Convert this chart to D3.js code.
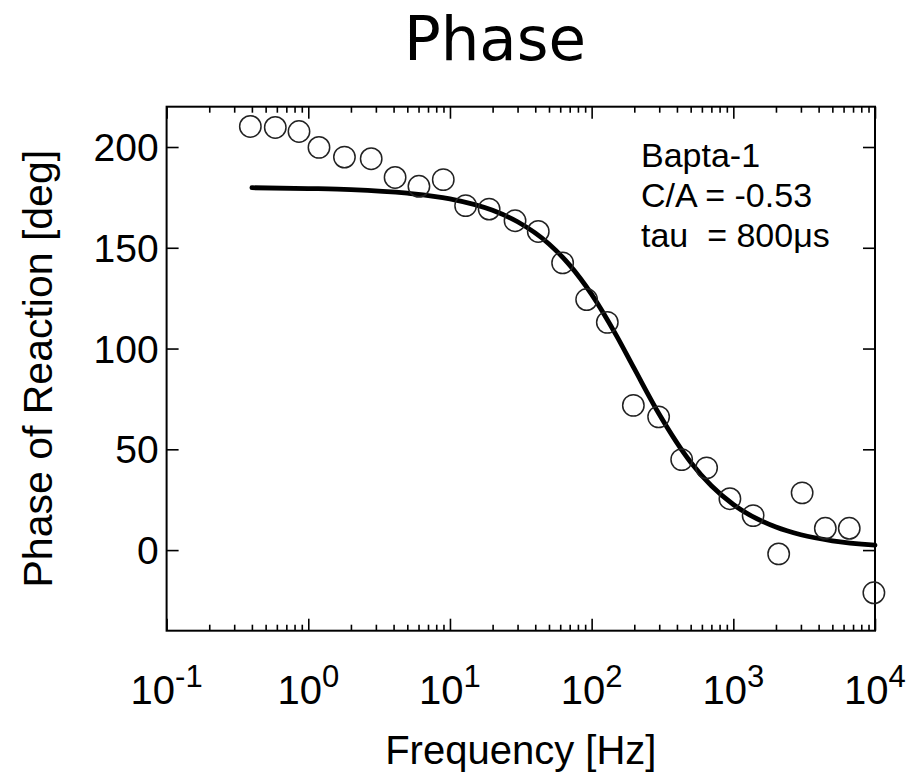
<!DOCTYPE html>
<html>
<head>
<meta charset="utf-8">
<script src="https://cdn.jsdelivr.net/npm/d3@7"></script>
<style>
  body { margin: 0; background: #fff; }
  text { font-family: "Liberation Sans", Arial, sans-serif; fill: #000; }
</style>
</head>
<body>
<svg width="909" height="775"></svg>
<script>
// measured points (frequency in Hz, phase in deg)
const freq = [0.39, 0.585, 0.86, 1.19, 1.8, 2.78, 4.1, 6.04, 8.97, 12.9, 18.9, 28.8, 42,
  62.4, 92.2, 129, 197, 297, 432, 648, 946, 1380, 2090, 3060, 4460, 6580, 9820];
const phase = [210.2, 209.7, 207.7, 199.8, 195, 194.2, 184.9, 180.5, 183.8, 170.9, 169.2, 163.4, 158.1,
  142.5, 124.3, 113, 71.8, 66.1, 44.9, 40.8, 25.5, 17.1, -1.9, 28.4, 10.8, 10.8, -21.2];

// fitted curve
const fitFreq = [0.4, 1, 2, 5, 10, 20, 30, 50, 70, 100, 150, 200, 300, 500, 700, 1000, 2000, 3000, 5000, 10000];
const fitPhase = [179.8, 179.4, 178.9, 177.1, 174.3, 168.6, 162.9, 151.9, 141.4, 126.9, 106.3, 90, 67.4,
  43.6, 31.9, 22.6, 11.4, 7.6, 4.6, 2.5];

const yTicks = [0, 50, 100, 150, 200];
const xExp = [-1, 0, 1, 2, 3, 4];
const notes = ["Bapta-1", "C/A = -0.53", "tau  = 800\u03bcs"];

const svg = d3.select('svg');
const marg = { top: 106.7, left: 166.6, right: 34, bottom: 144.3 };
const w = 909 - marg.left - marg.right;
const h = 775 - marg.top - marg.bottom;

const x = d3.scaleLog().domain([0.1, 10000]).range([0, w]);
const y = d3.scaleLinear().domain([-40, 220]).range([h, 0]);

const g = svg.append('g').attr('transform', `translate(${marg.left},${marg.top})`);

// tick positions
const major = xExp.map(e => Math.pow(10, e));
const minor = [];
xExp.slice(0, -1).forEach(e => {
  for (let k = 2; k <= 9; k++) minor.push(k * Math.pow(10, e));
});

const tickStyle = sel => {
  sel.select('.domain').remove();
  sel.selectAll('.tick text').remove();
  sel.selectAll('.tick line').attr('stroke', '#000').attr('stroke-width', 1.6);
};

// bottom + top axes (ticks inward)
g.append('g').attr('transform', `translate(0,${h})`)
  .call(d3.axisBottom(x).tickValues(major).tickSize(-12)).call(tickStyle);
g.append('g').attr('transform', `translate(0,${h})`)
  .call(d3.axisBottom(x).tickValues(minor).tickSize(-6)).call(tickStyle);
g.append('g')
  .call(d3.axisTop(x).tickValues(major).tickSize(-12)).call(tickStyle);
g.append('g')
  .call(d3.axisTop(x).tickValues(minor).tickSize(-6)).call(tickStyle);

// left + right axes
g.append('g')
  .call(d3.axisLeft(y).tickValues(yTicks).tickSize(-12)).call(tickStyle);
g.append('g').attr('transform', `translate(${w},0)`)
  .call(d3.axisRight(y).tickValues(yTicks).tickSize(-12)).call(tickStyle);

// frame
g.append('rect')
  .attr('width', w).attr('height', h)
  .attr('fill', 'none').attr('stroke', '#000').attr('stroke-width', 2);

// y tick labels
g.selectAll('.ylab').data(yTicks).enter().append('text')
  .attr('class', 'ylab')
  .attr('x', -8)
  .attr('y', d => y(d) + 14)
  .attr('text-anchor', 'end')
  .style('font-size', '39px')
  .text(d => d);

// x tick labels 10^n
const xl = g.selectAll('.xlab').data(xExp).enter().append('text')
  .attr('class', 'xlab')
  .attr('x', d => x(Math.pow(10, d)))
  .attr('y', h + 73)
  .attr('text-anchor', 'middle')
  .style('font-size', '40px');
xl.append('tspan').text('10');
xl.append('tspan').attr('dy', -17).style('font-size', '31px').text(d => d);

// fit line
const line = d3.line()
  .x((d, i) => x(fitFreq[i]))
  .y(d => y(d))
  .curve(d3.curveMonotoneX);

g.append('path')
  .datum(fitPhase)
  .attr('d', line)
  .attr('fill', 'none')
  .attr('stroke', '#000')
  .attr('stroke-width', 4.8)
  .attr('stroke-linecap', 'round');

// data circles
g.selectAll('circle').data(phase).enter().append('circle')
  .attr('cx', (d, i) => x(freq[i]))
  .attr('cy', d => y(d))
  .attr('r', 10.7)
  .attr('fill', 'none')
  .attr('stroke', '#222')
  .attr('stroke-width', 1.5);

// annotation
g.selectAll('.note').data(notes).enter().append('text')
  .attr('class', 'note')
  .attr('x', 641 - marg.left)
  .attr('y', (d, i) => 166.7 - marg.top + i * 40)
  .style('font-size', '34px')
  .style('white-space', 'pre')
  .text(d => d);

// axis titles
svg.append('text')
  .attr('x', marg.left + w / 2)
  .attr('y', 764)
  .attr('text-anchor', 'middle')
  .style('font-size', '40px')
  .text('Frequency [Hz]');

svg.append('text')
  .attr('transform', `translate(52,${marg.top + h / 2}) rotate(-90)`)
  .attr('text-anchor', 'middle')
  .style('font-size', '41px')
  .text('Phase of Reaction [deg]');

svg.append('text')
  .attr('x', 495)
  .attr('y', 60)
  .attr('text-anchor', 'middle')
  .style('font-family', '"DejaVu Sans", Verdana, sans-serif')
  .style('font-size', '61px')
  .text('Phase');
</script>
</body>
</html>
